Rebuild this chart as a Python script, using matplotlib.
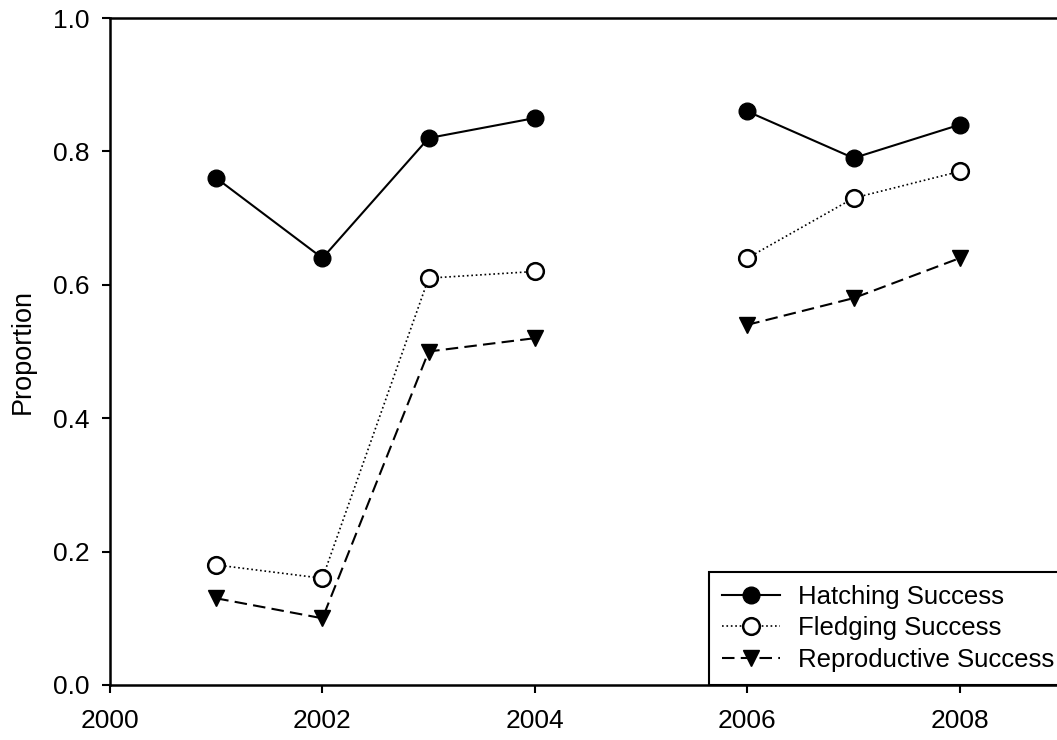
import numpy as np
import matplotlib
matplotlib.use("Agg")
import matplotlib.pyplot as plt

plt.rcParams['font.family'] = ['Liberation Sans', 'DejaVu Sans']

years = [2001, 2002, 2003, 2004, 2005, 2006, 2007, 2008]
hatching = [0.76, 0.64, 0.82, 0.85, np.nan, 0.86, 0.79, 0.84]
fledging = [0.18, 0.16, 0.61, 0.62, np.nan, 0.64, 0.73, 0.77]
reproductive = [0.13, 0.10, 0.50, 0.52, np.nan, 0.54, 0.58, 0.64]
xticks = [2000, 2002, 2004, 2006, 2008]
yticks = [0.0, 0.2, 0.4, 0.6, 0.8, 1.0]

W, H = 1057, 740
fig = plt.figure(figsize=(W / 100, H / 100), dpi=100)
ax = fig.add_axes([110 / W, 55 / H, 956 / W, 667 / H])

ax.plot(years, hatching, '-', color='black', lw=1.5, marker='o', ms=12,
        mfc='black', mec='black', label='Hatching Success')
ax.plot(years, fledging, ':', color='black', lw=1.2, marker='o', ms=12,
        mfc='white', mec='black', mew=1.8, label='Fledging Success')
ax.plot(years, reproductive, '--', color='black', lw=1.5, marker='v', ms=12,
        mfc='black', mec='black', label='Reproductive Success', dashes=(6, 3))

ax.set_xlim(2000, 2009)
ax.set_ylim(0, 1.0)
ax.set_xticks(xticks)
ax.set_xticklabels([str(x) for x in xticks])
ax.set_yticks(yticks)
ax.set_yticklabels([f"{y:.1f}" for y in yticks])
ax.tick_params(direction='out', length=6, width=1.5, labelsize=19)
ax.tick_params(axis='y', pad=9)
ax.tick_params(axis='x', pad=11)
for s in ax.spines.values():
    s.set_linewidth(1.8)
ax.set_ylabel('Proportion', fontsize=19.5, labelpad=12)

leg = ax.legend(loc='lower left', bbox_to_anchor=(709 / W, 55 / H),
                bbox_transform=fig.transFigure, fontsize=18.5, frameon=True,
                fancybox=False, edgecolor='black', framealpha=1,
                handlelength=2.25, borderpad=0.5, labelspacing=0.3,
                handletextpad=0.7, borderaxespad=0)
leg.get_frame().set_linewidth(1.5)

fig.savefig('out.png', dpi=100)
